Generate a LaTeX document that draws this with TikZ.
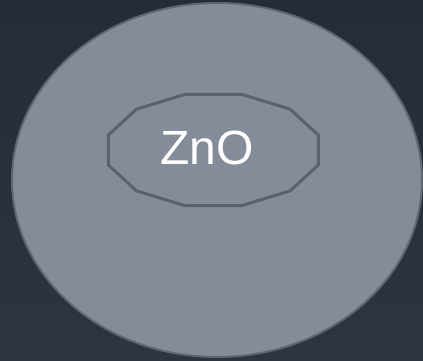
\documentclass[tikz,border=0pt]{standalone}
\usepackage{fontspec}
\setmainfont{Liberation Sans}
\usetikzlibrary{calc}
\definecolor{fondoA}{HTML}{252C36}
\definecolor{fondoB}{HTML}{2E3540}
\definecolor{cuerpo}{HTML}{848C99}
\definecolor{borde}{HTML}{5F6670}
\definecolor{bordeN}{HTML}{5C626C}
\tikzset{
  capa/.style   = {fill=cuerpo, draw=borde, line width=2pt},
  nucleo/.style = {draw=bordeN, line width=3pt, line join=miter},
  rotulo/.style = {text=white, inner sep=0pt, font=\fontsize{48}{50}\selectfont}
}
\begin{document}
\begin{tikzpicture}[x=1pt, y=-1pt]
  \useasboundingbox (0,0) rectangle (423,360);
  \shade[top color=fondoA, bottom color=fondoB] (0,0) rectangle (423,360);

  \coordinate (C) at (217,180);
  \coordinate (N) at (213.3,150);

  % capa exterior
  \draw[capa] (C) ellipse[x radius=205, y radius=177];

  % nucleo de 12 lados
  \draw[nucleo, shift={(N)}] (15:108.7 and 57.7)
    \foreach \a in {45,75,...,345}{ -- (\a:108.7 and 57.7)} -- cycle;

  \node[rotulo] (zno) at (207,148) {ZnO};
\end{tikzpicture}
\end{document}
